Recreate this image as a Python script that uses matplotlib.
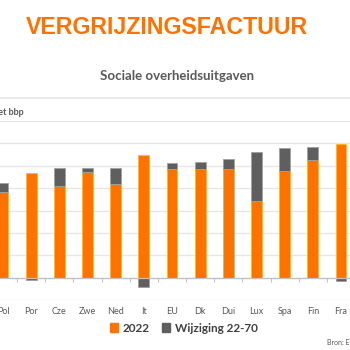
import matplotlib.pyplot as plt
import matplotlib.patches as mpatches
import numpy as np

# data (% of GDP)
landen = ['Pol', 'Por', 'Cze', 'Zwe', 'Ned', 'It', 'EU', 'Dk', 'Dui', 'Lux', 'Spa', 'Fin', 'Fra']
waarde_2022 = [19.1, 23.3, 20.5, 23.5, 21.0, 27.4, 24.3, 24.3, 24.3, 17.1, 23.8, 26.3, 29.9]
wijziging = [2.0, -0.6, 3.9, 0.9, 3.5, -2.1, 1.3, 1.6, 2.1, 10.9, 5.2, 2.8, -0.8]

oranje = '#FF7200'
grijs = '#5f5f5f'
tekst = '#595959'

fig = plt.figure(figsize=(3.5, 3.5), dpi=100)
ax = fig.add_axes([0, 1 - 300/350, 1, (300 - 121)/350])

x = np.arange(len(landen))
w2022 = np.array(waarde_2022)
dw = np.array(wijziging)
onder = np.where(dw > 0, w2022, 0)

randen = ['#FFC000'] * len(landen)
randen[landen.index('Dui')] = '#8fd19e'
ax.bar(x, w2022, width=0.38, color=oranje, edgecolor=randen, linewidth=0.6, zorder=3)
ax.bar(x, dw, width=0.38, bottom=onder, color=grijs, edgecolor='#a0a0a0', linewidth=0.6, zorder=3)

ax.set_yticks(range(-5, 36, 5))
ax.yaxis.grid(True, color='#e6e6e6', linewidth=0.9, zorder=0)
ax.tick_params(axis='y', left=False, labelleft=False)

for s in ['top', 'right', 'left']:
    ax.spines[s].set_visible(False)
ax.spines['bottom'].set_position(('data', 0))
ax.spines['bottom'].set_color('#c0c0c0')
ax.spines['bottom'].set_linewidth(0.9)
ax.spines['bottom'].set_zorder(4)

ax.set_xticks(x)
ax.set_xticklabels(landen, fontsize=6.5, color=tekst, family='Lato')
ax.tick_params(axis='x', which='major', length=0, pad=21)
ax.set_xticks(np.arange(-0.5, 13, 1), minor=True)
ax.tick_params(axis='x', which='minor', length=3, color='#c0c0c0', width=0.8)

# the original picture is cropped: Pol sits against the left edge
ax.set_xlim(-0.107, 12.32)
ax.set_ylim(-5, 35)

# titles and header
fig.text(0.477, 1 - 28/350, 'VERGRIJZINGSFACTUUR', color=oranje, fontsize=16.7,
         fontweight='bold', family='Liberation Sans', ha='center', va='center')
fig.text(0.505, 1 - 76/350, 'Sociale overheidsuitgaven', color=tekst, fontsize=9.5,
         fontweight='bold', family='Lato', ha='center', va='center')
fig.add_artist(plt.Line2D([0, 1], [1 - 98/350, 1 - 98/350], color='#e6e6e6', linewidth=1.2))
fig.text(24/350, 1 - 112/350, '% van het bbp', color=tekst, fontsize=6.5,
         fontweight='bold', family='Lato', ha='right', va='center')

# legend
handles = [mpatches.Patch(color=oranje, label='2022'),
           mpatches.Patch(color=grijs, label='Wijziging 22-70')]
fig.legend(handles=handles, loc='center', bbox_to_anchor=(0.525, 1 - 328/350), ncol=2,
           frameon=False, handlelength=0.7, handleheight=0.7, handletextpad=0.4,
           columnspacing=1.0, prop={'family': 'Lato', 'weight': 'bold', 'size': 8.5},
           labelcolor='#404040')

fig.text(327/350, 1 - 343/350, 'Bron: Europese Commissie', color=tekst, fontsize=5,
         family='Lato', ha='left', va='center')

fig.savefig('out.png', dpi=100)
